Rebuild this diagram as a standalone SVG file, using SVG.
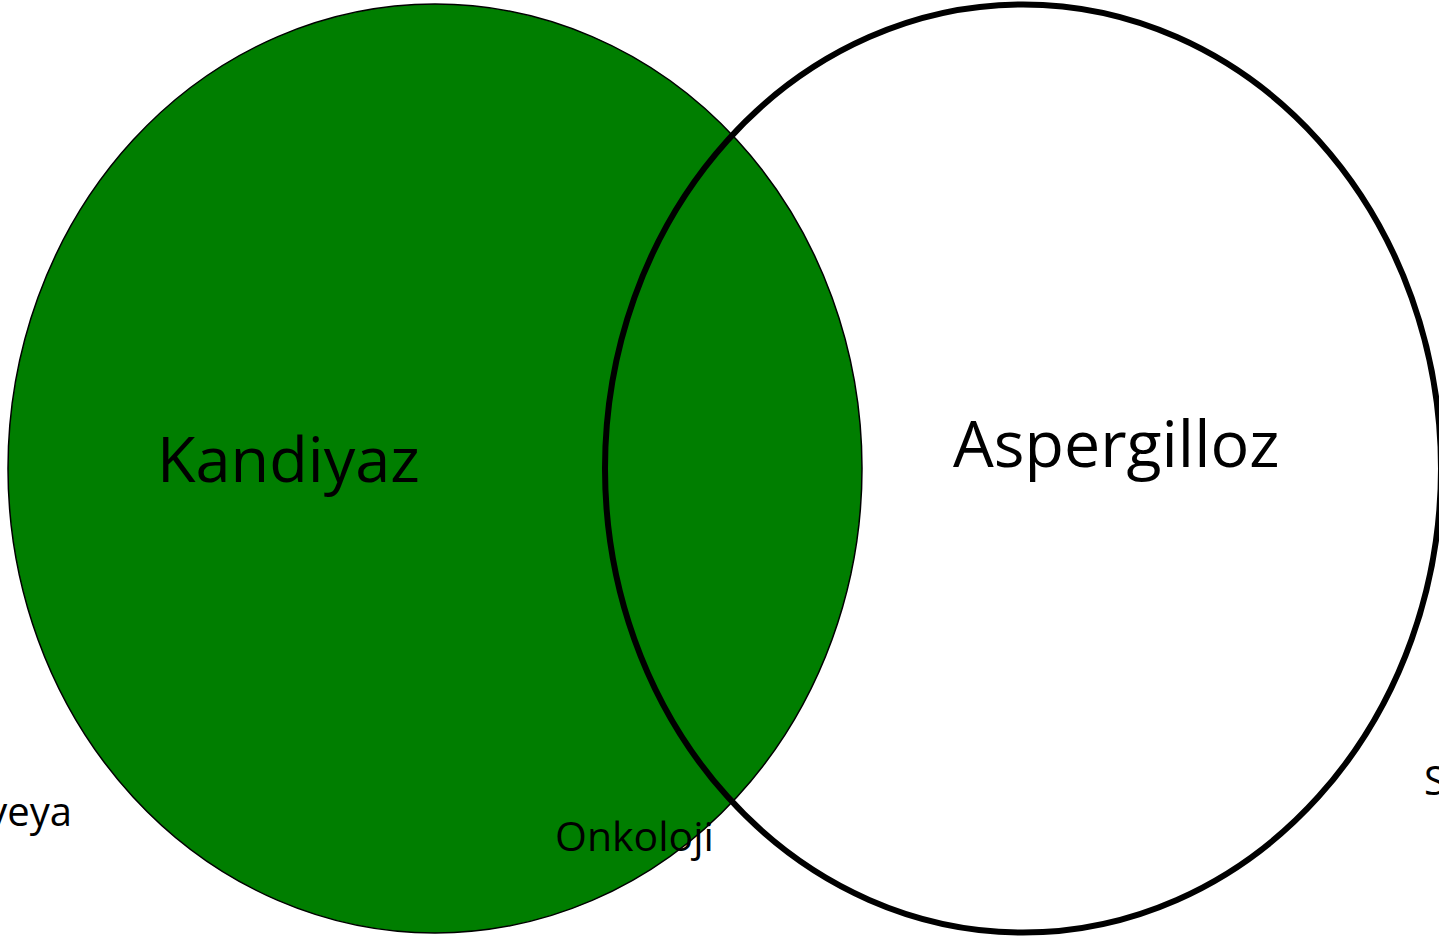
<svg xmlns="http://www.w3.org/2000/svg" width="1439" height="937" viewBox="0 0 1439 937">
<style>
.lbl{font-family:"Open Sans","Liberation Sans",sans-serif;fill:#000}
</style>
<rect width="1439" height="937" fill="#fff"/>
<g id="kandiyaz">
<ellipse cx="435" cy="468.5" rx="427" ry="464.5" fill="#007e00" stroke="#000" stroke-width="1.5"/>
</g>
<g id="aspergilloz">
<ellipse cx="1023" cy="468.5" rx="418" ry="464" fill="none" stroke="#000" stroke-width="6"/>
</g>
<g id="labels">
<text class="lbl" x="157" y="482" font-size="63">Kandiyaz</text>
<text class="lbl" x="953" y="467" font-size="64.5">Aspergilloz</text>
<text class="lbl" x="555" y="851" font-size="41">Onkoloji</text>
<text class="lbl" x="72" y="826" font-size="40" text-anchor="end">veya</text>
<text class="lbl" x="1424" y="795" font-size="40">S</text>
</g>
</svg>
